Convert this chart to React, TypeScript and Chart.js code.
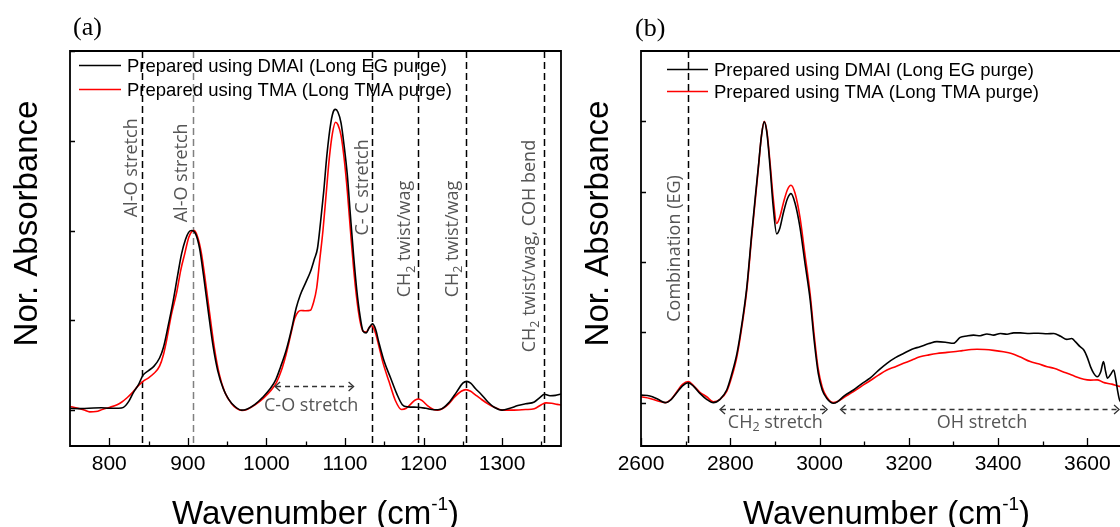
import React, { useEffect, useRef } from 'react';
import { Chart, registerables } from 'chart.js';

Chart.register(...registerables);

// ---------------- DATA ----------------
// Panel (a): 750 - 1375 cm-1
const dmaiA_x = [750, 765, 780, 790, 800, 812, 818, 825, 831, 837, 843, 850, 857, 864, 869, 875, 881, 887, 892, 897, 901, 905, 910, 915, 920, 926, 932, 938, 945, 952, 960, 968, 975, 985, 995, 1005, 1012, 1018, 1025, 1032, 1038, 1043, 1050, 1056, 1061, 1065, 1069, 1073, 1077, 1082, 1086, 1088, 1091, 1095, 1099, 1103, 1107, 1111, 1115, 1119, 1123, 1127, 1131, 1135, 1139, 1143, 1150, 1158, 1166, 1173, 1180, 1192, 1203, 1213, 1222, 1232, 1242, 1250, 1255, 1260, 1266, 1273, 1282, 1290, 1300, 1310, 1320, 1330, 1341, 1348, 1354, 1361, 1368, 1375];
const dmaiA_y = [0.01, 0.008, 0.012, 0.013, 0.01, 0.01, 0.015, 0.05, 0.1, 0.14, 0.195, 0.22, 0.245, 0.29, 0.35, 0.47, 0.6, 0.75, 0.87, 0.95, 0.99, 1.0, 0.98, 0.9, 0.75, 0.55, 0.36, 0.22, 0.12, 0.06, 0.02, 0.0, 0.005, 0.03, 0.07, 0.12, 0.17, 0.24, 0.33, 0.45, 0.57, 0.64, 0.71, 0.77, 0.84, 0.9, 1.05, 1.22, 1.42, 1.6, 1.67, 1.675, 1.66, 1.6, 1.47, 1.31, 1.08, 0.86, 0.67, 0.53, 0.44, 0.43, 0.46, 0.48, 0.45, 0.38, 0.27, 0.18, 0.09, 0.03, 0.018, 0.016, 0.01, 0.002, 0.005, 0.04, 0.1, 0.15, 0.16, 0.15, 0.12, 0.09, 0.045, 0.016, 0.0, 0.01, 0.025, 0.035, 0.045, 0.07, 0.088, 0.08, 0.082, 0.09];

const tmaA_x = [750, 760, 768, 775, 783, 792, 801, 810, 816, 823, 830, 837, 843, 850, 857, 864, 869, 873, 879, 886, 891, 896, 901, 905, 908, 912, 917, 922, 928, 934, 940, 947, 955, 962, 969, 976, 986, 996, 1006, 1013, 1019, 1025, 1031, 1036, 1040, 1044, 1050, 1056, 1060, 1064, 1068, 1072, 1076, 1080, 1084, 1088, 1091, 1095, 1099, 1103, 1107, 1111, 1115, 1119, 1123, 1127, 1131, 1134, 1138, 1143, 1148, 1156, 1164, 1172, 1178, 1184, 1189, 1194, 1199, 1205, 1212, 1218, 1225, 1232, 1240, 1248, 1254, 1260, 1266, 1273, 1282, 1290, 1300, 1315, 1330, 1341, 1350, 1356, 1363, 1370, 1375];
const tmaA_y = [0.02, 0.01, 0.0, -0.01, -0.008, 0.005, 0.016, 0.03, 0.045, 0.07, 0.1, 0.136, 0.16, 0.18, 0.205, 0.245, 0.31, 0.39, 0.53, 0.66, 0.78, 0.87, 0.96, 0.995, 1.0, 0.97, 0.88, 0.73, 0.53, 0.34, 0.2, 0.1, 0.04, 0.01, -0.002, 0.005, 0.03, 0.065, 0.11, 0.155, 0.22, 0.31, 0.42, 0.51, 0.545, 0.555, 0.553, 0.556, 0.6, 0.68, 0.84, 1.0, 1.2, 1.4, 1.54, 1.603, 1.59, 1.53, 1.4, 1.22, 1.0, 0.79, 0.62, 0.5, 0.44, 0.435, 0.46, 0.47, 0.44, 0.36, 0.27, 0.16, 0.055, 0.003, 0.01, 0.035, 0.055, 0.062, 0.05, 0.025, 0.005, 0.0, 0.01, 0.035, 0.075, 0.105, 0.114, 0.105, 0.085, 0.062, 0.035, 0.016, 0.0, 0.0, 0.003, 0.008, 0.03, 0.04, 0.038, 0.032, 0.028];

// Panel (b): 2600 - 3700 cm-1
const dmaiB_x = [2600, 2620, 2638, 2654, 2668, 2680, 2693, 2706, 2718, 2732, 2747, 2762, 2777, 2792, 2803, 2815, 2826, 2837, 2848, 2856, 2863, 2870, 2876, 2882, 2889, 2896, 2904, 2911, 2919, 2928, 2936, 2945, 2956, 2967, 2979, 2988, 2997, 3006, 3016, 3031, 3040, 3056, 3076, 3095, 3113, 3132, 3151, 3170, 3188, 3207, 3225, 3245, 3263, 3282, 3300, 3315, 3330, 3345, 3360, 3375, 3390, 3405, 3420, 3435, 3450, 3470, 3490, 3510, 3525, 3540, 3554, 3565, 3573, 3583, 3592, 3600, 3607, 3614, 3622, 3630, 3636, 3641, 3645, 3652, 3659, 3664, 3668, 3672, 3676];
const dmaiB_y = [0.027, 0.024, 0.012, 0.0, 0.012, 0.035, 0.06, 0.071, 0.058, 0.033, 0.012, 0.0, 0.012, 0.045, 0.1, 0.175, 0.28, 0.41, 0.6, 0.73, 0.84, 0.95, 0.998, 0.96, 0.84, 0.7, 0.6, 0.62, 0.675, 0.725, 0.743, 0.71, 0.625, 0.5, 0.365, 0.22, 0.105, 0.045, 0.016, -0.002, 0.003, 0.025, 0.045, 0.068, 0.087, 0.115, 0.14, 0.16, 0.175, 0.19, 0.199, 0.21, 0.217, 0.215, 0.211, 0.232, 0.237, 0.24, 0.238, 0.244, 0.24, 0.246, 0.243, 0.248, 0.248, 0.246, 0.247, 0.245, 0.246, 0.236, 0.225, 0.228, 0.217, 0.2, 0.187, 0.16, 0.128, 0.105, 0.092, 0.11, 0.146, 0.11, 0.087, 0.1, 0.116, 0.08, 0.04, 0.01, 0.0];

const tmaB_x = [2600, 2620, 2638, 2654, 2668, 2680, 2693, 2706, 2718, 2732, 2747, 2762, 2777, 2792, 2803, 2815, 2826, 2837, 2848, 2856, 2863, 2870, 2876, 2882, 2889, 2896, 2904, 2911, 2919, 2928, 2936, 2945, 2956, 2967, 2979, 2988, 2997, 3006, 3016, 3031, 3040, 3056, 3076, 3095, 3113, 3132, 3151, 3170, 3188, 3207, 3225, 3245, 3263, 3282, 3300, 3320, 3340, 3353, 3370, 3390, 3412, 3430, 3450, 3472, 3490, 3510, 3525, 3545, 3565, 3592, 3607, 3622, 3635, 3644, 3655, 3672, 3690, 3700];
const tmaB_y = [0.021, 0.015, 0.006, 0.0, 0.013, 0.038, 0.065, 0.075, 0.06, 0.037, 0.021, 0.003, 0.012, 0.04, 0.09, 0.165, 0.27, 0.4, 0.59, 0.72, 0.835, 0.95, 1.0, 0.965, 0.855, 0.73, 0.637, 0.66, 0.71, 0.757, 0.773, 0.745, 0.66, 0.53, 0.385, 0.24, 0.12, 0.055, 0.02, 0.0, 0.004, 0.02, 0.039, 0.06, 0.078, 0.098, 0.116, 0.128, 0.14, 0.152, 0.163, 0.17, 0.175, 0.178, 0.181, 0.185, 0.189, 0.19, 0.189, 0.186, 0.181, 0.175, 0.162, 0.146, 0.138, 0.128, 0.122, 0.11, 0.098, 0.083, 0.08, 0.081, 0.073, 0.069, 0.066, 0.058, 0.055, 0.052];

const seriesLabels = ['Prepared using DMAI (Long EG purge)', 'Prepared using TMA (Long TMA purge)'];

const ticksA = [800, 900, 1000, 1100, 1200, 1300];
const minorTicksA = [850, 950, 1050, 1150, 1250, 1350];
const yTicksA = [0, 0.5, 1, 1.5, 2];
const ticksB = [2600, 2800, 3000, 3200, 3400, 3600];
const minorTicksB = [2700, 2900, 3100, 3300, 3500];
const yTicksB = [0, 0.25, 0.5, 0.75, 1];

const guidesA = [842, 907, 1134, 1193, 1254, 1353];
const guidesB = [2706];

type Part = { t: string; sub?: boolean; sup?: boolean };

const bandLabelsA: { x: number; y: number; parts: Part[] }[] = [
  { x: 842, y: 1.074, parts: [{ t: 'Al-O stretch' }] },
  { x: 907, y: 1.046, parts: [{ t: 'Al-O stretch' }] },
  { x: 1134, y: 0.972, parts: [{ t: 'C- C stretch' }] },
  { x: 1193, y: 0.628, parts: [{ t: 'CH' }, { t: '2', sub: true }, { t: ' twist/wag' }] },
  { x: 1254, y: 0.628, parts: [{ t: 'CH' }, { t: '2', sub: true }, { t: ' twist/wag' }] },
  { x: 1353, y: 0.322, parts: [{ t: 'CH' }, { t: '2', sub: true }, { t: ' twist/wag, COH bend' }] },
];
const bandLabelsB: { x: number; y: number; parts: Part[] }[] = [
  { x: 2706, y: 0.2875, parts: [{ t: 'Combination (EG)' }] },
];

const rangesA = [{ from: 1011, to: 1111, y: 0.136, ty: 0.025, tx: 1057, parts: [{ t: 'C-O stretch' }] as Part[] }];
const rangesB = [
  { from: 2777, to: 3017, y: -0.023, ty: -0.072, tx: 2901, parts: [{ t: 'CH' }, { t: '2', sub: true }, { t: ' stretch' }] as Part[] },
  { from: 3047, to: 3671, y: -0.023, ty: -0.072, tx: 3364, parts: [{ t: 'OH stretch' }] as Part[] },
];

// ---------------- STYLE ----------------
const SANS = "'Liberation Sans', Arial, sans-serif";
const ANN = "'Open Sans', sans-serif";
const SERIF = "'Liberation Serif', 'Times New Roman', serif";
const ANN_COLOR = '#555555';

function measureParts(ctx: CanvasRenderingContext2D, parts: Part[], size: number, family: string, small: number) {
  let w = 0;
  for (const p of parts) {
    ctx.font = `${p.sub || p.sup ? small : size}px ${family}`;
    w += ctx.measureText(p.t).width;
  }
  return w;
}

function drawParts(ctx: CanvasRenderingContext2D, parts: Part[], x: number, y: number, size: number, family: string, small: number, subShift: number, supShift: number) {
  let cx = x;
  for (const p of parts) {
    ctx.font = `${p.sub || p.sup ? small : size}px ${family}`;
    const dy = p.sub ? subShift : p.sup ? -supShift : 0;
    ctx.fillText(p.t, cx, y + dy);
    cx += ctx.measureText(p.t).width;
  }
}

type PanelCfg = {
  name: string;
  xmin: number; xmax: number; ymin: number; ymax: number;
  ticks: number[]; minor: number[]; yticks: number[];
  guides: number[]; guideColors: string[]; guideOffsets: number[];
  bands: { x: number; y: number; parts: Part[] }[];
  ranges: { from: number; to: number; y: number; ty: number; tx: number; parts: Part[] }[];
  series: { xs: number[]; ys: number[]; color: string }[];
  padLeft: number; padRight: number; yWidth: number;
  legendX: number; legendY: number; legendGap: number; legendLine: number; legendFont: number;
  panelLabel: string; panelX: number; panelY: number;
  width: number; left: number;
};

const panelA: PanelCfg = {
  name: 'a', xmin: 750, xmax: 1375, ymin: -0.2, ymax: 2.0,
  ticks: ticksA, minor: minorTicksA, yticks: yTicksA,
  guides: guidesA, guideColors: ['#000', '#808080', '#000', '#000', '#000', '#000'], guideOffsets: [-5, -6, -4, -8, -8, -9],
  bands: bandLabelsA, ranges: rangesA,
  series: [
    { xs: dmaiA_x, ys: dmaiA_y, color: '#000000' },
    { xs: tmaA_x, ys: tmaA_y, color: '#ff0000' },
  ],
  padLeft: 0, padRight: 5, yWidth: 70,
  legendX: 79, legendY: 65, legendGap: 24, legendLine: 42, legendFont: 18.5,
  panelLabel: '(a)', panelX: 73, panelY: 35,
  width: 566, left: 0,
};

const panelB: PanelCfg = {
  name: 'b', xmin: 2600, xmax: 3700, ymin: -0.154, ymax: 1.25,
  ticks: ticksB, minor: minorTicksB, yticks: yTicksB,
  guides: guidesB, guideColors: ['#000'], guideOffsets: [-8],
  bands: bandLabelsB, ranges: rangesB,
  series: [
    { xs: dmaiB_x, ys: dmaiB_y, color: '#000000' },
    { xs: tmaB_x, ys: tmaB_y, color: '#ff0000' },
  ],
  padLeft: 0, padRight: 34, yWidth: 75,
  legendX: 101, legendY: 69, legendGap: 21.7, legendLine: 41, legendFont: 18.5,
  panelLabel: '(b)', panelX: 69, panelY: 36,
  width: 600, left: 566,
};

function makePlugin(p: PanelCfg) {
  return {
    id: 'panelDeco' + p.name,
    beforeDatasetsDraw(chart: any) {
      const { ctx, chartArea: a } = chart;
      const x = chart.scales.x;
      ctx.save();
      ctx.beginPath();
      ctx.rect(a.left, a.top, a.right - a.left, a.bottom - a.top);
      ctx.clip();
      ctx.lineWidth = 1.5;
      ctx.setLineDash([7, 4]);
      p.guides.forEach((g, i) => {
        ctx.strokeStyle = p.guideColors[i];
        const px = Math.round(x.getPixelForValue(g)) + 0.5;
        ctx.beginPath();
        ctx.moveTo(px, a.top);
        ctx.lineTo(px, a.bottom);
        ctx.stroke();
      });
      ctx.restore();
    },
    afterDatasetsDraw(chart: any) {
      const { ctx, chartArea: a } = chart;
      const x = chart.scales.x;
      const y = chart.scales.y;
      ctx.save();
      // frame
      ctx.strokeStyle = '#000';
      ctx.lineWidth = 1.8;
      ctx.setLineDash([]);
      ctx.beginPath();
      ctx.moveTo(a.left, a.top);
      ctx.lineTo(a.right, a.top);
      ctx.lineTo(a.right, a.bottom);
      ctx.lineTo(a.left, a.bottom);
      ctx.closePath();
      ctx.stroke();
      // inward ticks
      ctx.lineWidth = 1.3;
      ctx.beginPath();
      p.ticks.forEach((v) => {
        const px = Math.round(x.getPixelForValue(v)) + 0.5;
        ctx.moveTo(px, a.bottom);
        ctx.lineTo(px, a.bottom - 8);
      });
      p.minor.forEach((v) => {
        const px = Math.round(x.getPixelForValue(v)) + 0.5;
        ctx.moveTo(px, a.bottom);
        ctx.lineTo(px, a.bottom - 4.5);
      });
      p.yticks.forEach((v) => {
        const py = Math.round(y.getPixelForValue(v)) + 0.5;
        ctx.moveTo(a.left, py);
        ctx.lineTo(a.left + 5, py);
      });
      ctx.stroke();

      // rotated band labels
      ctx.fillStyle = ANN_COLOR;
      ctx.textAlign = 'left';
      ctx.textBaseline = 'alphabetic';
      p.bands.forEach((b) => {
        const gi = p.guides.indexOf(b.x);
        const off = gi >= 0 ? p.guideOffsets[gi] : -5;
        const px = x.getPixelForValue(b.x) + off;
        const py = y.getPixelForValue(b.y);
        ctx.save();
        ctx.translate(px, py);
        ctx.rotate(-Math.PI / 2);
        drawParts(ctx, b.parts, 0, 0, 18, ANN, 12.5, 4.5, 0);
        ctx.restore();
      });

      // range arrows
      p.ranges.forEach((r) => {
        const x1 = x.getPixelForValue(r.from);
        const x2 = x.getPixelForValue(r.to);
        const py = Math.round(y.getPixelForValue(r.y)) + 0.5;
        ctx.strokeStyle = '#333';
        ctx.lineWidth = 1.3;
        ctx.setLineDash([5, 4]);
        ctx.beginPath();
        ctx.moveTo(x1 + 1, py);
        ctx.lineTo(x2 - 1, py);
        ctx.stroke();
        ctx.setLineDash([]);
        ctx.beginPath();
        ctx.moveTo(x1 + 5, py - 4.5);
        ctx.lineTo(x1, py);
        ctx.lineTo(x1 + 5, py + 4.5);
        ctx.moveTo(x2 - 5, py - 4.5);
        ctx.lineTo(x2, py);
        ctx.lineTo(x2 - 5, py + 4.5);
        ctx.stroke();
        const w = measureParts(ctx, r.parts, 18, ANN, 12.5);
        const tx = x.getPixelForValue(r.tx) - w / 2;
        const ty = y.getPixelForValue(r.ty);
        ctx.fillStyle = ANN_COLOR;
        ctx.textBaseline = 'middle';
        drawParts(ctx, r.parts, tx, ty, 18, ANN, 12.5, 5, 0);
      });

      // legend
      ctx.textBaseline = 'alphabetic';
      chart.data.datasets.forEach((ds: any, i: number) => {
        const ly = p.legendY + i * p.legendGap;
        ctx.strokeStyle = ds.borderColor;
        ctx.lineWidth = 1.5;
        ctx.beginPath();
        ctx.moveTo(p.legendX, Math.round(ly) + 0.5);
        ctx.lineTo(p.legendX + p.legendLine, Math.round(ly) + 0.5);
        ctx.stroke();
        ctx.fillStyle = '#000';
        ctx.font = `${p.legendFont}px ${SANS}`;
        ctx.fillText(ds.label, p.legendX + p.legendLine + 6, ly + 7);
      });

      // axis titles
      ctx.fillStyle = '#000';
      ctx.save();
      ctx.translate(a.left - 33.5, (a.top + a.bottom) / 2 - 25);
      ctx.rotate(-Math.PI / 2);
      ctx.textAlign = 'center';
      ctx.font = `33px ${SANS}`;
      ctx.fillText('Nor. Absorbance', 0, 0);
      ctx.restore();

      const xt: Part[] = [{ t: 'Wavenumber (cm' }, { t: '-1', sup: true }, { t: ')' }];
      const tw = measureParts(ctx, xt, 33, SANS, 19);
      ctx.textAlign = 'left';
      drawParts(ctx, xt, (a.left + a.right) / 2 - tw / 2, 524, 33, SANS, 19, 0, 14);

      // panel label
      ctx.font = `26px ${SERIF}`;
      ctx.fillText(p.panelLabel, p.panelX, p.panelY);
      ctx.restore();
    },
  };
}

function buildConfig(p: PanelCfg): any {
  return {
    type: 'line',
    data: {
      datasets: p.series.map((s, i) => ({
        label: seriesLabels[i],
        data: s.xs.map((xv, j) => ({ x: xv, y: s.ys[j] })),
        borderColor: s.color,
        backgroundColor: s.color,
        borderWidth: 1.6,
        pointRadius: 0,
        fill: false,
        cubicInterpolationMode: 'monotone',
      })),
    },
    options: {
      animation: false,
      responsive: false,
      devicePixelRatio: 1,
      events: [],
      layout: { padding: { left: p.padLeft, right: p.padRight, top: 51, bottom: 0 } },
      plugins: { legend: { display: false }, tooltip: { enabled: false }, title: { display: false } },
      scales: {
        x: {
          type: 'linear',
          min: p.xmin,
          max: p.xmax,
          grid: { display: false, drawTicks: false },
          border: { display: false },
          ticks: {
            color: '#000',
            font: { family: SANS, size: 21 },
            padding: 6,
            maxRotation: 0,
            autoSkip: false,
            callback: (v: any) => String(v),
          },
          afterBuildTicks: (s: any) => {
            s.ticks = p.ticks.map((v) => ({ value: v }));
          },
          afterFit: (s: any) => {
            s.height = 81;
          },
        },
        y: {
          type: 'linear',
          min: p.ymin,
          max: p.ymax,
          grid: { display: false, drawTicks: false },
          border: { display: false },
          ticks: { display: false },
          afterFit: (s: any) => {
            s.width = p.yWidth;
          },
        },
      },
    },
    plugins: [makePlugin(p)],
  };
}

function Panel({ cfg }: { cfg: PanelCfg }) {
  const ref = useRef<HTMLCanvasElement>(null);
  useEffect(() => {
    if (!ref.current) return;
    const chart = new Chart(ref.current, buildConfig(cfg));
    return () => chart.destroy();
  }, [cfg]);
  return (
    <canvas
      ref={ref}
      width={cfg.width}
      height={527}
      style={{ position: 'absolute', left: cfg.left, top: 0, width: cfg.width, height: 527 }}
    />
  );
}

export default function App() {
  return (
    <div style={{ position: 'absolute', left: 0, top: 0, width: 1120, height: 527, overflow: 'hidden', background: '#fff' }}>
      <Panel cfg={panelA} />
      <Panel cfg={panelB} />
    </div>
  );
}
